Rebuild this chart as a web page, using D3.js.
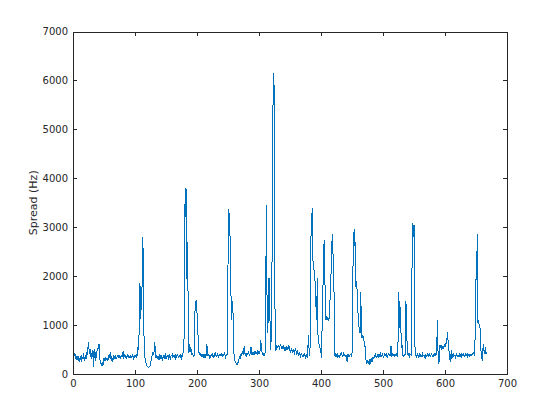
<!DOCTYPE html>
<html>
<head>
<meta charset="utf-8">
<script src="https://cdn.jsdelivr.net/npm/d3@7"></script>
<style>
  html, body { margin: 0; padding: 0; background: #ffffff; }
  svg { display: block; }
  text { font-family: "DejaVu Sans", sans-serif; }
</style>
</head>
<body>
<svg id="chart" width="560" height="420"></svg>
<script>
// ---- data ----
const xTicks = [0, 100, 200, 300, 400, 500, 600, 700];
const yTicks = [0, 1000, 2000, 3000, 4000, 5000, 6000, 7000];
const yLabel = "Spread (Hz)";

// spread values for samples 1..668
const spread = [
  450, 380, 420, 350, 300, 340, 280, 360, 310, 250,
  330, 290, 380, 240, 350, 300, 420, 270, 330, 390,
  310, 450, 380, 520, 650, 480, 420, 520, 360, 300,
  480, 420, 150, 500, 380, 270, 450, 320, 530, 470,
  560, 610, 350, 250, 210, 190, 230, 180, 200, 320,
  300, 260, 350, 280, 330, 290, 310, 380, 350, 440,
  300, 360, 250, 330, 290, 380, 340, 310, 360, 330,
  350, 370, 320, 390, 340, 360, 330, 370, 350, 400,
  460, 350, 380, 340, 370, 320, 360, 390, 340, 380,
  350, 330, 370, 360, 340, 380, 350, 310, 370, 360,
  380, 340, 400, 380, 590, 500, 1120, 1850, 1120, 1620,
  1300, 2800, 2570, 1100, 500, 350, 250, 220, 180, 150,
  140, 136, 160, 150, 200, 280, 350, 400, 450, 380,
  480, 650, 400, 330, 380, 300, 360, 280, 400, 320,
  350, 300, 380, 260, 330, 390, 300, 350, 420, 310,
  340, 380, 360, 290, 400, 350, 320, 370, 380, 400,
  340, 360, 380, 350, 320, 390, 360, 400, 380, 340,
  360, 380, 330, 400, 290, 360, 380, 490, 560, 2800,
  3800, 3200, 3780, 1700, 2700, 700, 420, 620, 450, 550,
  420, 390, 410, 380, 360, 420, 1500, 1350, 1510, 1240,
  1070, 660, 450, 400, 380, 420, 350, 400, 360, 380,
  320, 370, 400, 350, 380, 620, 360, 410, 380, 340,
  390, 350, 400, 370, 420, 330, 380, 400, 360, 410,
  380, 350, 420, 380, 340, 400, 370, 390, 420, 380,
  360, 410, 380, 430, 390, 350, 400, 380, 420, 2200,
  3370, 3230, 3000, 2200, 1480, 1100, 1500, 1310, 600, 320,
  280, 250, 220, 200, 190, 230, 260, 310, 350, 330,
  400, 380, 450, 420, 380, 570, 430, 390, 420, 380,
  410, 390, 440, 400, 380, 450, 560, 410, 430, 400,
  420, 390, 450, 430, 460, 420, 400, 480, 440, 420,
  450, 480, 690, 500, 440, 400, 380, 420, 360, 450,
  1900, 3450, 1460, 840, 1200, 1970, 1850, 830, 500, 900,
  2300, 5000, 5800, 6150, 5000, 560, 470, 520, 580, 550,
  590, 560, 520, 570, 600, 540, 510, 560, 580, 530,
  500, 550, 470, 520, 560, 490, 530, 600, 510, 470,
  450, 520, 480, 430, 500, 460, 420, 480, 510, 440,
  400, 460, 420, 380, 450, 390, 360, 420, 400, 380,
  350, 390, 420, 380, 340, 400, 370, 330, 570, 800,
  380, 420, 800, 3050, 3200, 3390, 2330, 2180, 2100, 1990,
  1750, 1360, 1100, 1955, 816, 694, 600, 572, 480, 422,
  334, 1185, 1700, 2195, 2740, 2400, 1170, 1100, 1150, 1120,
  1170, 1100, 1130, 1250, 1720, 2000, 2310, 2861, 2740, 2000,
  1680, 389, 360, 410, 380, 340, 400, 370, 390, 350,
  380, 410, 455, 390, 360, 420, 380, 400, 370, 350,
  390, 250, 380, 360, 400, 370, 390, 400, 380, 420,
  935, 2909, 2500, 2957, 2657, 1785, 1900, 1785, 1340, 1205,
  1000, 900, 830, 1670, 1160, 730, 780, 765, 700, 640,
  560, 340, 250, 200, 290, 220, 250, 180, 300, 230,
  260, 320, 240, 350, 300, 380, 340, 390, 360, 330,
  370, 400, 350, 380, 340, 420, 390, 360, 400, 370,
  350, 390, 420, 380, 360, 400, 340, 380, 410, 370,
  400, 380, 580, 350, 390, 420, 380, 400, 360, 390,
  370, 400, 355, 380, 1680, 935, 1489, 1200, 845, 545,
  560, 380, 360, 400, 380, 420, 1490, 1035, 545, 400,
  380, 420, 360, 400, 390, 380, 2590, 3095, 2800, 3047,
  865, 370, 400, 350, 380, 410, 370, 340, 390, 360,
  400, 380, 350, 410, 370, 390, 360, 400, 340, 380,
  370, 410, 390, 350, 400, 380, 360, 420, 390, 370,
  400, 360, 390, 420, 380, 400, 708, 1100, 250, 203,
  350, 597, 560, 520, 580, 540, 560, 530, 590, 560,
  600, 640, 700, 865, 660, 520, 420, 300, 250, 490,
  300, 380, 350, 400, 370, 390, 340, 380, 410, 360,
  390, 370, 400, 350, 380, 410, 360, 390, 370, 400,
  380, 350, 400, 370, 390, 360, 420, 380, 400, 370,
  390, 410, 380, 420, 400, 430, 410, 380, 1140, 1925,
  1925, 2861, 1035, 1100, 1000, 950, 920, 490, 320, 300,
  490, 613, 450, 420, 560, 400, 430, 420
];

// ---- layout ----
const M = { left: 73, right: 507, top: 31.5, bottom: 374 };
const axisColor = "#262626";
const lineColor = "#0072BD";
const tickLen = 4.3;

const svg = d3.select("#chart");

const x = d3.scaleLinear().domain([0, 700]).range([M.left, M.right]);
const y = d3.scaleLinear().domain([0, 7000]).range([M.bottom, M.top]);

// data line
const pts = spread.map((v, i) => [i + 1, v]);
svg.append("path")
  .datum(pts)
  .attr("fill", "none")
  .attr("stroke", lineColor)
  .attr("stroke-width", 1)
  .attr("shape-rendering", "crispEdges")
  .attr("d", d3.line().x(d => x(d[0])).y(d => y(d[1])));

function styleAxis(g) {
  g.attr("shape-rendering", "crispEdges");
  g.selectAll("path.domain").attr("stroke", axisColor).attr("stroke-width", 1);
  g.selectAll(".tick line").attr("stroke", axisColor).attr("stroke-width", 1);
  g.selectAll(".tick text").attr("fill", axisColor).attr("font-size", "10px")
    .attr("font-family", "DejaVu Sans, sans-serif");
}

// bottom axis
svg.append("g")
  .attr("transform", `translate(0,${M.bottom})`)
  .call(d3.axisBottom(x).tickValues(xTicks).tickFormat(d3.format("d"))
    .tickSizeInner(-tickLen).tickSizeOuter(0).tickPadding(6))
  .call(styleAxis);

// top axis (no labels)
svg.append("g")
  .attr("transform", `translate(0,${M.top})`)
  .call(d3.axisTop(x).tickValues(xTicks).tickFormat("")
    .tickSizeInner(-tickLen).tickSizeOuter(0))
  .call(styleAxis);

// left axis
svg.append("g")
  .attr("transform", `translate(${M.left},0)`)
  .call(d3.axisLeft(y).tickValues(yTicks).tickFormat(d3.format("d"))
    .tickSizeInner(-tickLen).tickSizeOuter(0).tickPadding(5))
  .call(styleAxis);

// right axis (no labels)
svg.append("g")
  .attr("transform", `translate(${M.right},0)`)
  .call(d3.axisRight(y).tickValues(yTicks).tickFormat("")
    .tickSizeInner(-tickLen).tickSizeOuter(0))
  .call(styleAxis);

// y label
svg.append("text")
  .attr("transform", `translate(37,${(M.top + M.bottom) / 2}) rotate(-90)`)
  .attr("text-anchor", "middle")
  .attr("font-size", "11px")
  .attr("fill", axisColor)
  .text(yLabel);
</script>
</body>
</html>
